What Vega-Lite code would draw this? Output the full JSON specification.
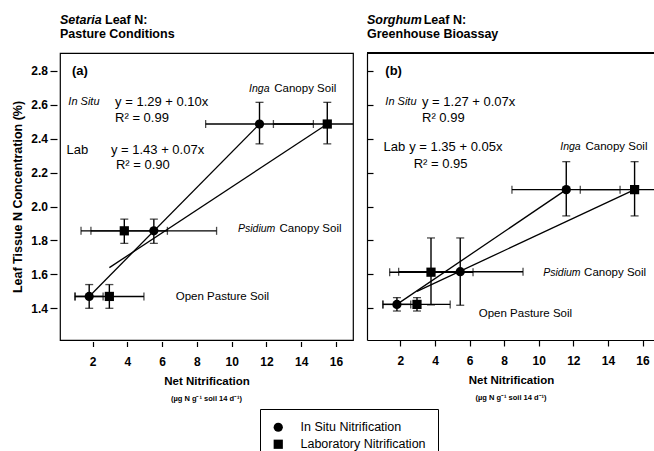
{
  "$schema": "https://vega.github.io/schema/vega-lite/v6.json",
  "background": "white",
  "padding": {"left": 11, "top": 13, "right": 0, "bottom": 0},
  "spacing": 12,
  "config": {
    "font": "Liberation Sans",
    "view": {"stroke": "black", "strokeWidth": 1.2},
    "axis": {"grid": false, "labelColor": "black", "tickColor": "black", "domainColor": "black", "titleColor": "black", "labelFontSize": 12, "labelFontWeight": "bold", "titleFontWeight": "bold", "tickWidth": 1.2, "domainWidth": 1.2, "labelFlush": false, "labelOverlap": false}
  },
  "datasets": {
    "points": [
      {"panel": "a", "soil": "Open Pasture", "method": "In Situ Nitrification", "x": 1.8, "xlo": 1.0, "xhi": 2.6, "y": 1.47, "ylo": 1.40, "yhi": 1.54},
      {"panel": "a", "soil": "Open Pasture", "method": "Laboratory Nitrification", "x": 2.96, "xlo": 0.97, "xhi": 4.95, "y": 1.47, "ylo": 1.40, "yhi": 1.54},
      {"panel": "a", "soil": "Psidium Canopy", "method": "In Situ Nitrification", "x": 5.52, "xlo": 1.9, "xhi": 9.13, "y": 1.857, "ylo": 1.783, "yhi": 1.926},
      {"panel": "a", "soil": "Psidium Canopy", "method": "Laboratory Nitrification", "x": 3.82, "xlo": 1.33, "xhi": 6.3, "y": 1.857, "ylo": 1.783, "yhi": 1.926},
      {"panel": "a", "soil": "Inga Canopy", "method": "In Situ Nitrification", "x": 11.6, "xlo": 8.5, "xhi": 14.7, "y": 2.487, "ylo": 2.37, "yhi": 2.615},
      {"panel": "a", "soil": "Inga Canopy", "method": "Laboratory Nitrification", "x": 15.5, "xlo": 12.4, "xhi": 18.6, "y": 2.487, "ylo": 2.37, "yhi": 2.615},
      {"panel": "b", "soil": "Open Pasture", "method": "In Situ Nitrification", "x": 1.8, "xlo": 1.0, "xhi": 2.6, "y": 1.423, "ylo": 1.384, "yhi": 1.463},
      {"panel": "b", "soil": "Open Pasture", "method": "Laboratory Nitrification", "x": 2.96, "xlo": 0.98, "xhi": 4.88, "y": 1.423, "ylo": 1.384, "yhi": 1.463},
      {"panel": "b", "soil": "Psidium Canopy", "method": "In Situ Nitrification", "x": 5.46, "xlo": 1.9, "xhi": 9.09, "y": 1.616, "ylo": 1.418, "yhi": 1.815},
      {"panel": "b", "soil": "Psidium Canopy", "method": "Laboratory Nitrification", "x": 3.77, "xlo": 1.38, "xhi": 6.2, "y": 1.613, "ylo": 1.42, "yhi": 1.815},
      {"panel": "b", "soil": "Inga Canopy", "method": "In Situ Nitrification", "x": 11.59, "xlo": 8.45, "xhi": 14.7, "y": 2.10, "ylo": 1.945, "yhi": 2.265},
      {"panel": "b", "soil": "Inga Canopy", "method": "Laboratory Nitrification", "x": 15.54, "xlo": 12.4, "xhi": 18.7, "y": 2.10, "ylo": 1.945, "yhi": 2.265}
    ],
    "lines": [
      {"panel": "a", "method": "In Situ", "x": 1.8, "y": 1.47},
      {"panel": "a", "method": "In Situ", "x": 11.6, "y": 2.487},
      {"panel": "a", "method": "Lab", "x": 2.96, "y": 1.64},
      {"panel": "a", "method": "Lab", "x": 15.5, "y": 2.487},
      {"panel": "b", "method": "In Situ", "x": 1.8, "y": 1.423},
      {"panel": "b", "method": "In Situ", "x": 11.59, "y": 2.10},
      {"panel": "b", "method": "Lab", "x": 2.96, "y": 1.50},
      {"panel": "b", "method": "Lab", "x": 15.54, "y": 2.10}
    ],
    "notes": [
      {"panel": "a", "role": "taxon", "text": "Setaria", "x": 0.12, "y": 3.103},
      {"panel": "a", "role": "heading", "text": "Leaf N:", "x": 2.71, "y": 3.103},
      {"panel": "a", "role": "heading", "text": "Pasture Conditions", "x": 0.12, "y": 3.02},
      {"panel": "a", "role": "tag", "text": "(a)", "x": 0.81, "y": 2.8},
      {"panel": "a", "role": "method", "text": "In Situ", "x": 0.6, "y": 2.615},
      {"panel": "a", "role": "equation", "text": "Lab", "x": 0.5, "y": 2.334},
      {"panel": "a", "role": "equation", "text": "y = 1.29 + 0.10x", "x": 3.29, "y": 2.615},
      {"panel": "a", "role": "equation", "text": "R² = 0.99", "x": 3.29, "y": 2.52},
      {"panel": "a", "role": "equation", "text": "y = 1.43 + 0.07x", "x": 3.05, "y": 2.334},
      {"panel": "a", "role": "equation", "text": "R² = 0.90", "x": 3.34, "y": 2.245},
      {"panel": "a", "role": "genus", "text": "Inga", "x": 11.0, "y": 2.692},
      {"panel": "a", "role": "soil", "text": "Canopy Soil", "x": 12.45, "y": 2.692},
      {"panel": "a", "role": "genus", "text": "Psidium", "x": 10.36, "y": 1.866},
      {"panel": "a", "role": "soil", "text": "Canopy Soil", "x": 12.75, "y": 1.866},
      {"panel": "a", "role": "soil", "text": "Open Pasture Soil", "x": 6.78, "y": 1.468},
      {"panel": "b", "role": "taxon", "text": "Sorghum", "x": 0.07, "y": 3.103},
      {"panel": "b", "role": "heading", "text": "Leaf N:", "x": 3.35, "y": 3.103},
      {"panel": "b", "role": "heading", "text": "Greenhouse Bioassay", "x": 0.07, "y": 3.02},
      {"panel": "b", "role": "tag", "text": "(b)", "x": 1.13, "y": 2.8},
      {"panel": "b", "role": "method", "text": "In Situ", "x": 1.13, "y": 2.619},
      {"panel": "b", "role": "equation", "text": "Lab", "x": 1.03, "y": 2.353},
      {"panel": "b", "role": "equation", "text": "y = 1.27 + 0.07x", "x": 3.25, "y": 2.619},
      {"panel": "b", "role": "equation", "text": "R² 0.99", "x": 3.25, "y": 2.52},
      {"panel": "b", "role": "equation", "text": "y = 1.35 + 0.05x", "x": 2.51, "y": 2.353},
      {"panel": "b", "role": "equation", "text": "R² = 0.95", "x": 2.77, "y": 2.251},
      {"panel": "b", "role": "genus", "text": "Inga", "x": 11.24, "y": 2.353},
      {"panel": "b", "role": "soil", "text": "Canopy Soil", "x": 12.7, "y": 2.353},
      {"panel": "b", "role": "genus", "text": "Psidium", "x": 10.26, "y": 1.606},
      {"panel": "b", "role": "soil", "text": "Canopy Soil", "x": 12.62, "y": 1.606},
      {"panel": "b", "role": "soil", "text": "Open Pasture Soil", "x": 6.53, "y": 1.365}
    ]
  },
  "resolve": {"scale": {"x": "independent", "y": "independent", "shape": "shared"}, "legend": {"shape": "shared"}},
  "hconcat": [
    {
      "width": 293,
      "height": 287,
      "title": {"text": "(µg N g⁻¹ soil 14 d⁻¹)", "orient": "bottom", "anchor": "middle", "fontSize": 7.5, "fontWeight": "bold", "color": "black", "offset": 8},
      "layer": [
        {
          "data": {"name": "lines"},
          "transform": [{"filter": "datum.panel == 'a'"}],
          "mark": {"type": "line", "color": "black", "strokeWidth": 1.3},
          "encoding": {
            "x": {"field": "x", "type": "quantitative", "title": "Net Nitrification", "scale": {"domain": [0.12, 16.98], "nice": false, "zero": false}, "axis": {"values": [2, 4, 6, 8, 10, 12, 14, 16], "domain": false, "offset": 1.5, "tickSize": 5, "labelPadding": 10, "titleFontSize": 11.5, "titlePadding": 8}},
            "y": {"field": "y", "type": "quantitative", "title": "Leaf Tissue N Concentration (%)", "scale": {"domain": [1.213, 2.906], "nice": false, "zero": false}, "axis": {"values": [1.4, 1.6, 1.8, 2.0, 2.2, 2.4, 2.6, 2.8], "format": ".1f", "domain": false, "offset": 3, "tickSize": 7, "labelPadding": 2.5, "titleFontSize": 12.5, "titlePadding": 6}},
            "detail": {"field": "method", "type": "nominal"}
          }
        },
        {
          "data": {"name": "points"},
          "transform": [{"filter": "datum.panel == 'a'"}],
          "mark": {"type": "errorbar", "color": "black", "thickness": 1.4, "clip": true, "ticks": {"size": 8, "thickness": 1.3}},
          "encoding": {
            "x": {"field": "xlo", "type": "quantitative", "title": "Net Nitrification"},
            "x2": {"field": "xhi"},
            "y": {"field": "y", "type": "quantitative", "title": "Leaf Tissue N Concentration (%)"}
          }
        },
        {
          "data": {"name": "points"},
          "transform": [{"filter": "datum.panel == 'a'"}],
          "mark": {"type": "errorbar", "color": "black", "thickness": 1.4, "ticks": {"size": 8, "thickness": 1.3}},
          "encoding": {
            "x": {"field": "x", "type": "quantitative", "title": "Net Nitrification"},
            "y": {"field": "ylo", "type": "quantitative", "title": "Leaf Tissue N Concentration (%)"},
            "y2": {"field": "yhi"}
          }
        },
        {
          "data": {"name": "points"},
          "transform": [{"filter": "datum.panel == 'a'"}],
          "mark": {"type": "point", "filled": true, "color": "black", "opacity": 1, "size": 85},
          "encoding": {
            "x": {"field": "x", "type": "quantitative", "title": "Net Nitrification"},
            "y": {"field": "y", "type": "quantitative", "title": "Leaf Tissue N Concentration (%)"},
            "shape": {"field": "method", "type": "nominal", "scale": {"domain": ["In Situ Nitrification", "Laboratory Nitrification"], "range": ["circle", "square"]},
              "legend": {"title": null, "orient": "none", "legendX": 200, "legendY": 356, "direction": "vertical", "strokeColor": "black", "fillColor": "white", "padding": 12, "labelFontSize": 12.5, "labelColor": "black", "symbolSize": 85, "symbolFillColor": "black", "symbolStrokeColor": "black", "symbolType": "circle", "labelOffset": 16, "rowPadding": 1}}
          }
        },
        {
          "data": {"name": "notes"},
          "transform": [{"filter": "datum.panel == 'a' && datum.role == 'taxon'"}],
          "mark": {"type": "text", "align": "left", "baseline": "middle", "fontSize": 12.5, "fontWeight": "bold", "fontStyle": "italic", "color": "black"},
          "encoding": {"x": {"field": "x", "type": "quantitative", "title": "Net Nitrification"}, "y": {"field": "y", "type": "quantitative", "title": "Leaf Tissue N Concentration (%)"}, "text": {"field": "text"}}
        },
        {
          "data": {"name": "notes"},
          "transform": [{"filter": "datum.panel == 'a' && datum.role == 'heading'"}],
          "mark": {"type": "text", "align": "left", "baseline": "middle", "fontSize": 12.5, "fontWeight": "bold", "color": "black"},
          "encoding": {"x": {"field": "x", "type": "quantitative", "title": "Net Nitrification"}, "y": {"field": "y", "type": "quantitative", "title": "Leaf Tissue N Concentration (%)"}, "text": {"field": "text"}}
        },
        {
          "data": {"name": "notes"},
          "transform": [{"filter": "datum.panel == 'a' && datum.role == 'tag'"}],
          "mark": {"type": "text", "align": "left", "baseline": "middle", "fontSize": 13, "fontWeight": "bold", "color": "black"},
          "encoding": {"x": {"field": "x", "type": "quantitative", "title": "Net Nitrification"}, "y": {"field": "y", "type": "quantitative", "title": "Leaf Tissue N Concentration (%)"}, "text": {"field": "text"}}
        },
        {
          "data": {"name": "notes"},
          "transform": [{"filter": "datum.panel == 'a' && datum.role == 'equation'"}],
          "mark": {"type": "text", "align": "left", "baseline": "middle", "fontSize": 13, "color": "black"},
          "encoding": {"x": {"field": "x", "type": "quantitative", "title": "Net Nitrification"}, "y": {"field": "y", "type": "quantitative", "title": "Leaf Tissue N Concentration (%)"}, "text": {"field": "text"}}
        },
        {
          "data": {"name": "notes"},
          "transform": [{"filter": "datum.panel == 'a' && datum.role == 'method'"}],
          "mark": {"type": "text", "align": "left", "baseline": "middle", "fontSize": 11, "fontStyle": "italic", "color": "black"},
          "encoding": {"x": {"field": "x", "type": "quantitative", "title": "Net Nitrification"}, "y": {"field": "y", "type": "quantitative", "title": "Leaf Tissue N Concentration (%)"}, "text": {"field": "text"}}
        },
        {
          "data": {"name": "notes"},
          "transform": [{"filter": "datum.panel == 'a' && datum.role == 'genus'"}],
          "mark": {"type": "text", "align": "left", "baseline": "middle", "fontSize": 10.5, "fontStyle": "italic", "color": "black"},
          "encoding": {"x": {"field": "x", "type": "quantitative", "title": "Net Nitrification"}, "y": {"field": "y", "type": "quantitative", "title": "Leaf Tissue N Concentration (%)"}, "text": {"field": "text"}}
        },
        {
          "data": {"name": "notes"},
          "transform": [{"filter": "datum.panel == 'a' && datum.role == 'soil'"}],
          "mark": {"type": "text", "align": "left", "baseline": "middle", "fontSize": 11.5, "color": "black"},
          "encoding": {"x": {"field": "x", "type": "quantitative", "title": "Net Nitrification"}, "y": {"field": "y", "type": "quantitative", "title": "Leaf Tissue N Concentration (%)"}, "text": {"field": "text"}}
        }
      ]
    },
    {
      "width": 288,
      "height": 287,
      "view": {"stroke": null},
      "title": {"text": "(µg N g⁻¹ soil 14 d⁻¹)", "orient": "bottom", "anchor": "middle", "fontSize": 7.5, "fontWeight": "bold", "color": "black", "offset": 8},
      "layer": [
        {
          "data": {"name": "lines"},
          "transform": [{"filter": "datum.panel == 'b'"}],
          "mark": {"type": "line", "color": "black", "strokeWidth": 1.3},
          "encoding": {
            "x": {"field": "x", "type": "quantitative", "title": "Net Nitrification", "scale": {"domain": [0.07, 16.72], "nice": false, "zero": false}, "axis": {"values": [2, 4, 6, 8, 10, 12, 14, 16], "domain": true, "tickSize": 6, "labelPadding": 9, "titleFontSize": 11.5, "titlePadding": 8}},
            "y": {"field": "y", "type": "quantitative", "title": null, "scale": {"domain": [1.213, 2.906], "nice": false, "zero": false}, "axis": {"values": [1.4, 1.6, 1.8, 2.0, 2.2, 2.4, 2.6, 2.8], "labels": false, "domain": true, "tickSize": -6}},
            "detail": {"field": "method", "type": "nominal"}
          }
        },
        {
          "data": {"name": "lines"},
          "mark": {"type": "rule", "color": "black", "strokeWidth": 1.2},
          "encoding": {"y": {"datum": 2.906, "type": "quantitative", "title": null}}
        },
        {
          "data": {"name": "points"},
          "transform": [{"filter": "datum.panel == 'b'"}],
          "mark": {"type": "errorbar", "color": "black", "thickness": 1.4, "clip": true, "ticks": {"size": 8, "thickness": 1.3}},
          "encoding": {
            "x": {"field": "xlo", "type": "quantitative", "title": "Net Nitrification"},
            "x2": {"field": "xhi"},
            "y": {"field": "y", "type": "quantitative", "title": null}
          }
        },
        {
          "data": {"name": "points"},
          "transform": [{"filter": "datum.panel == 'b'"}],
          "mark": {"type": "errorbar", "color": "black", "thickness": 1.4, "ticks": {"size": 8, "thickness": 1.3}},
          "encoding": {
            "x": {"field": "x", "type": "quantitative", "title": "Net Nitrification"},
            "y": {"field": "ylo", "type": "quantitative", "title": null},
            "y2": {"field": "yhi"}
          }
        },
        {
          "data": {"name": "points"},
          "transform": [{"filter": "datum.panel == 'b'"}],
          "mark": {"type": "point", "filled": true, "color": "black", "opacity": 1, "size": 85},
          "encoding": {
            "x": {"field": "x", "type": "quantitative", "title": "Net Nitrification"},
            "y": {"field": "y", "type": "quantitative", "title": null},
            "shape": {"field": "method", "type": "nominal"}
          }
        },
        {
          "data": {"name": "notes"},
          "transform": [{"filter": "datum.panel == 'b' && datum.role == 'taxon'"}],
          "mark": {"type": "text", "align": "left", "baseline": "middle", "fontSize": 12.5, "fontWeight": "bold", "fontStyle": "italic", "color": "black"},
          "encoding": {"x": {"field": "x", "type": "quantitative", "title": "Net Nitrification"}, "y": {"field": "y", "type": "quantitative", "title": null}, "text": {"field": "text"}}
        },
        {
          "data": {"name": "notes"},
          "transform": [{"filter": "datum.panel == 'b' && datum.role == 'heading'"}],
          "mark": {"type": "text", "align": "left", "baseline": "middle", "fontSize": 12.5, "fontWeight": "bold", "color": "black"},
          "encoding": {"x": {"field": "x", "type": "quantitative", "title": "Net Nitrification"}, "y": {"field": "y", "type": "quantitative", "title": null}, "text": {"field": "text"}}
        },
        {
          "data": {"name": "notes"},
          "transform": [{"filter": "datum.panel == 'b' && datum.role == 'tag'"}],
          "mark": {"type": "text", "align": "left", "baseline": "middle", "fontSize": 13, "fontWeight": "bold", "color": "black"},
          "encoding": {"x": {"field": "x", "type": "quantitative", "title": "Net Nitrification"}, "y": {"field": "y", "type": "quantitative", "title": null}, "text": {"field": "text"}}
        },
        {
          "data": {"name": "notes"},
          "transform": [{"filter": "datum.panel == 'b' && datum.role == 'equation'"}],
          "mark": {"type": "text", "align": "left", "baseline": "middle", "fontSize": 13, "color": "black"},
          "encoding": {"x": {"field": "x", "type": "quantitative", "title": "Net Nitrification"}, "y": {"field": "y", "type": "quantitative", "title": null}, "text": {"field": "text"}}
        },
        {
          "data": {"name": "notes"},
          "transform": [{"filter": "datum.panel == 'b' && datum.role == 'method'"}],
          "mark": {"type": "text", "align": "left", "baseline": "middle", "fontSize": 11, "fontStyle": "italic", "color": "black"},
          "encoding": {"x": {"field": "x", "type": "quantitative", "title": "Net Nitrification"}, "y": {"field": "y", "type": "quantitative", "title": null}, "text": {"field": "text"}}
        },
        {
          "data": {"name": "notes"},
          "transform": [{"filter": "datum.panel == 'b' && datum.role == 'genus'"}],
          "mark": {"type": "text", "align": "left", "baseline": "middle", "fontSize": 10.5, "fontStyle": "italic", "color": "black"},
          "encoding": {"x": {"field": "x", "type": "quantitative", "title": "Net Nitrification"}, "y": {"field": "y", "type": "quantitative", "title": null}, "text": {"field": "text"}}
        },
        {
          "data": {"name": "notes"},
          "transform": [{"filter": "datum.panel == 'b' && datum.role == 'soil'"}],
          "mark": {"type": "text", "align": "left", "baseline": "middle", "fontSize": 11.5, "color": "black"},
          "encoding": {"x": {"field": "x", "type": "quantitative", "title": "Net Nitrification"}, "y": {"field": "y", "type": "quantitative", "title": null}, "text": {"field": "text"}}
        }
      ]
    }
  ]
}
